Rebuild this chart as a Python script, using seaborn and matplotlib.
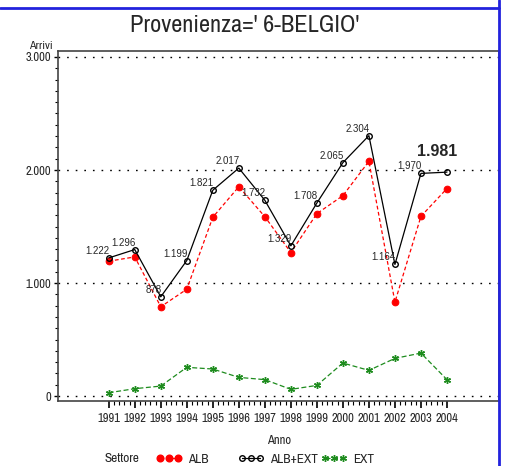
import numpy as np
import pandas as pd
import seaborn as sns
import matplotlib.pyplot as plt
from matplotlib.lines import Line2D
from matplotlib.ticker import FixedLocator, MultipleLocator, FuncFormatter

anni = [1991, 1992, 1993, 1994, 1995, 1996, 1997, 1998, 1999, 2000, 2001, 2002, 2003, 2004]
alb = [1193, 1231, 790, 945, 1582, 1852, 1587, 1270, 1614, 1773, 2077, 831, 1590, 1836]
alb_ext = [1222, 1296, 878, 1199, 1821, 2017, 1732, 1329, 1708, 2065, 2304, 1164, 1970, 1981]
ext = [29, 65, 88, 254, 239, 165, 145, 59, 94, 292, 227, 333, 380, 145]
etichette = ["1.222", "1.296", "878", "1.199", "1.821", "2.017", "1.732", "1.329",
             "1.708", "2.065", "2.304", "1.164", "1.970", "1.981"]

sns.set_style("white")
narrow = ["Archivo Narrow", "Barlow Condensed", "DejaVu Sans"]
plt.rcParams["font.family"] = narrow
plt.rcParams["font.weight"] = "medium"
label_font = ["Liberation Sans", "DejaVu Sans"]

dt = pd.DataFrame({"anno": anni, "alb": alb, "alb_ext": alb_ext, "ext": ext})

fig = plt.figure(figsize=(5.06, 4.66), dpi=100)
ax = fig.add_axes([58 / 506, 1 - 401 / 466, 441 / 506, 350 / 466])

red = "#ff0000"
green = "#1e8c1e"
star = (6, 2, 0)
sns.lineplot(data=dt, x="anno", y="alb", color=red, lw=0.9, ax=ax,
             marker="o", markersize=4.8, markeredgecolor=red, linestyle=(0, (3, 2)))
sns.lineplot(data=dt, x="anno", y="ext", color=green, lw=0.9, ax=ax,
             marker=star, markersize=5, markeredgewidth=1.0,
             markeredgecolor=green, linestyle=(0, (4, 2)))
sns.lineplot(data=dt, x="anno", y="alb_ext", color="black", lw=0.9, ax=ax,
             marker="o", markersize=4, markerfacecolor="none",
             markeredgecolor="black", markeredgewidth=1.0)

# data labels
for a, v, lab in zip(anni[:-1], alb_ext[:-1], etichette[:-1]):
    ax.annotate(lab, (a, v), xytext=(1, 2), textcoords="offset pixels",
                ha="right", va="bottom", fontsize=7, family=label_font,
                fontweight="normal")
ax.annotate(etichette[-1], (anni[-1], alb_ext[-1]), xytext=(-10, 13),
            textcoords="offset pixels", ha="center", va="bottom",
            fontsize=11.5, fontweight="bold", family=label_font)

for yv in [0, 1000, 2000, 3000]:
    ax.axhline(yv, color="black", lw=1.0, linestyle=(0, (1.2, 5)), zorder=0)

ax.set_xlim(1989.05, 2006.0)
ax.set_ylim(-44, 3053)
ax.xaxis.set_major_locator(FixedLocator(anni))
ax.xaxis.set_minor_locator(FixedLocator(
    [a + f for a in anni[:-1] for f in (0.2, 0.4, 0.6, 0.8)]))
ax.yaxis.set_major_locator(FixedLocator([0, 1000, 2000, 3000]))
ax.yaxis.set_minor_locator(MultipleLocator(100))
ax.yaxis.set_major_formatter(FuncFormatter(lambda v, p: f"{int(v):,}".replace(",", ".")))

ax.tick_params(axis="both", which="both", direction="out", color="black",
               bottom=True, left=True, labelsize=9)
ax.tick_params(axis="x", which="major", length=5, width=1.2, pad=4)
ax.tick_params(axis="x", which="minor", length=3, width=0.8)
ax.tick_params(axis="y", which="major", length=3, width=1.0, pad=2)
ax.tick_params(axis="y", which="minor", length=2, width=0.8)
for s in ax.spines.values():
    s.set_color("#444444")
    s.set_linewidth(1.2)

ax.set_xlabel("")
ax.set_ylabel("")
fig.text(53 / 506, 1 - 46 / 466, "Arrivi", fontsize=8.5, ha="right", va="center")
fig.text(279 / 506, 1 - 441 / 466, "Anno", fontsize=9, ha="center", va="center")
fig.text(245 / 506, 1 - 32 / 466, "Provenienza=' 6-BELGIO'", fontsize=17.5,
         ha="center", va="baseline", fontweight="normal")
fig.text(122 / 506, 1 - 459 / 466, "Settore", fontsize=9.5, ha="center", va="center")

# legend entries
entries = [
    ("ALB", dict(color=red, marker="o", markersize=4.8, linestyle=(0, (3, 2)), lw=0.9), 156),
    ("ALB+EXT", dict(color="black", marker="o", markersize=4, markerfacecolor="none", lw=0.9), 238),
    ("EXT", dict(color=green, marker=star, markersize=5, linestyle=(0, (4, 2)), lw=0.9), 321),
]
for name, kw, x0 in entries:
    h = Line2D([], [], **kw)
    fig.legend([h], [name], loc="center left", bbox_to_anchor=(x0 / 506, 1 - 459 / 466),
               frameon=False, numpoints=3, handlelength=2.0, handletextpad=0.45,
               borderpad=0, borderaxespad=0, fontsize=9.5)

# blue border
fig.add_artist(Line2D([0, 499 / 506], [1 - 8 / 466, 1 - 8 / 466], color="#2222dd", lw=2))
fig.add_artist(Line2D([499 / 506, 499 / 506], [0, 1], color="#2222dd", lw=2))

fig.savefig("out.png", dpi=100)
